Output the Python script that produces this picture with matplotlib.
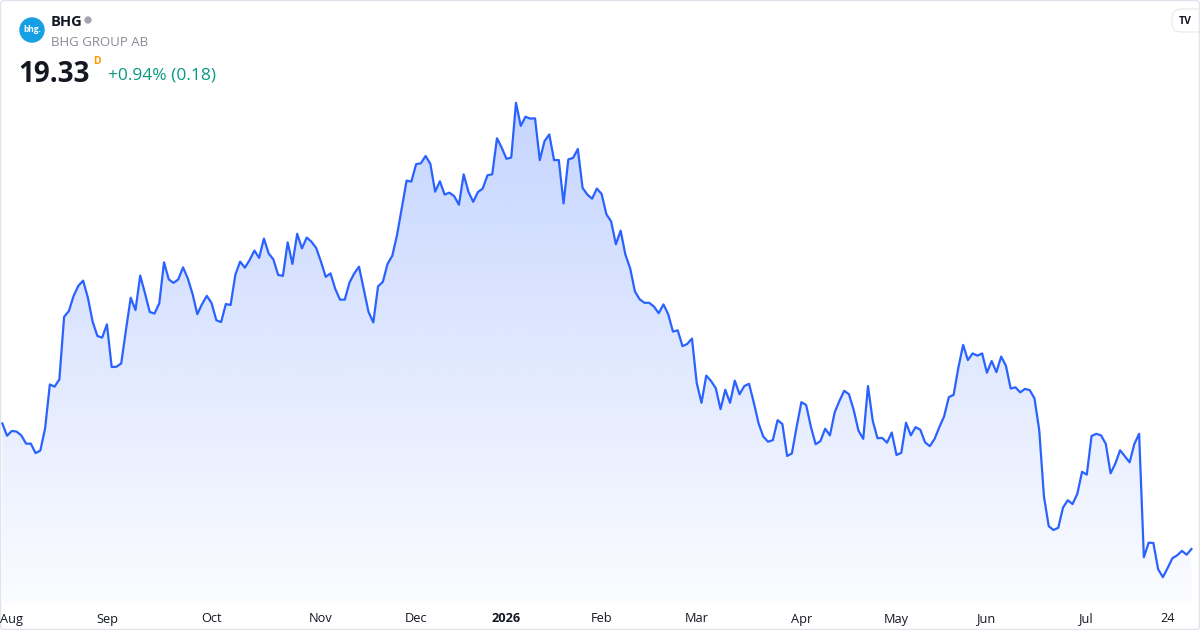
import matplotlib
matplotlib.use("Agg")
import matplotlib.pyplot as plt
import numpy as np
import pandas as pd
from matplotlib.patches import Circle, FancyBboxPatch

plt.rcParams['font.family'] = ['Open Sans', 'DejaVu Sans']

# Daily closes, BHG Group AB (Nasdaq Stockholm), Jul 31 2025 .. Jul 31 2026
start_date = "2025-07-31"
end_date = "2026-07-31"
holidays = ["2025-12-24", "2025-12-25", "2025-12-26", "2025-12-31",
            "2026-01-01", "2026-01-06", "2026-04-03", "2026-04-06",
            "2026-05-01", "2026-05-14", "2026-06-19"]

closes = [
    23.30, 22.91, 23.06, 23.04, 22.92, 22.66, 22.66, 22.36, 22.44, 23.14,
    24.53, 24.46, 24.69, 26.67, 26.85, 27.33, 27.65, 27.81, 27.27, 26.51,
    26.06, 26.01, 26.43, 25.08, 25.09, 25.19, 26.25, 27.27, 26.88, 27.97,
    27.41, 26.82, 26.77, 27.09, 28.39, 27.85, 27.74, 27.85, 28.23, 27.88,
    27.39, 26.75, 27.07, 27.33, 27.10, 26.56, 26.50, 27.07, 27.04, 28.00,
    28.41, 28.22, 28.46, 28.76, 28.53, 29.14, 28.67, 28.48, 27.99, 27.96,
    29.02, 28.34, 29.29, 28.83, 29.17, 29.04, 28.84, 28.41, 27.93, 28.04,
    27.55, 27.21, 27.21, 27.75, 28.04, 28.25, 27.54, 26.82, 26.49, 27.63,
    27.77, 28.34, 28.60, 29.26, 30.11, 30.97, 30.94, 31.49, 31.52, 31.75,
    31.50, 30.62, 30.95, 30.53, 30.59, 30.48, 30.21, 31.17, 30.62, 30.30,
    30.61, 30.72, 31.14, 31.17, 32.31, 32.01, 31.66, 31.70, 33.43, 32.70,
    32.99, 32.93, 32.94, 31.62, 32.22, 32.43, 31.62, 31.62, 30.25, 31.64,
    31.69, 31.97, 30.74, 30.53, 30.40, 30.72, 30.55, 29.91, 29.68, 28.96,
    29.39, 28.63, 28.20, 27.47, 27.22, 27.11, 27.11, 26.99, 26.78, 27.06,
    26.75, 26.20, 26.24, 25.74, 25.81, 25.98, 24.57, 23.95, 24.81, 24.64,
    24.41, 23.75, 24.36, 23.95, 24.65, 24.22, 24.48, 24.55, 23.95, 23.30,
    22.88, 22.72, 22.77, 23.40, 23.28, 22.27, 22.35, 23.19, 23.97, 23.88,
    23.19, 22.64, 22.74, 23.13, 22.92, 23.65, 24.01, 24.33, 24.22, 23.72,
    23.07, 22.81, 24.48, 23.38, 22.83, 22.84, 22.69, 23.01, 22.30, 22.37,
    23.32, 22.92, 23.18, 23.10, 22.70, 22.58, 22.81, 23.18, 23.52, 24.13,
    24.20, 25.06, 25.78, 25.30, 25.51, 25.44, 25.51, 24.90, 25.27, 24.92,
    25.41, 25.12, 24.40, 24.44, 24.28, 24.39, 24.35, 24.09, 23.09, 20.98,
    20.05, 19.93, 20.00, 20.64, 20.87, 20.75, 21.07, 21.77, 21.68, 22.90,
    22.97, 22.92, 22.65, 21.72, 22.03, 22.45, 22.26, 22.07, 22.65, 22.97,
    19.07, 19.53, 19.52, 18.69, 18.44, 18.73, 19.04, 19.13, 19.27, 19.15,
    19.33,
]

ticker = "BHG"
name = "BHG GROUP AB"
last_price = "19.33"
change_text = "+0.94% (0.18)"

bday = pd.offsets.CustomBusinessDay(holidays=holidays)
dates = pd.date_range(start_date, end_date, freq=bday)
df = pd.DataFrame({"close": closes}, index=dates[:len(closes)])

line_color = "#2962FF"

fig = plt.figure(figsize=(12, 6.3), dpi=100)
ax = fig.add_axes([0, 27 / 630, 1, 603 / 630])

x = np.arange(len(df))
y = df["close"].values
ax.set_xlim(-0.48, 251.8)
ax.set_ylim(36.6784 - 0.0316 * 603, 36.6784)
ymin, ymax = ax.get_ylim()

# gradient fill under the line
grad = np.linspace(0.27, 0.02, 256).reshape(-1, 1)
rgba = np.zeros((256, 1, 4))
rgba[..., 0] = 0x29 / 255
rgba[..., 1] = 0x62 / 255
rgba[..., 2] = 1.0
rgba[..., 3] = grad
top = y.max()
img = ax.imshow(rgba, aspect="auto", extent=[x[0], x[-1], ymin, top],
                origin="upper", zorder=1)
poly = ax.fill_between(x, y, ymin, facecolor="none", edgecolor="none")
img.set_clip_path(poly.get_paths()[0], transform=ax.transData)

ax.plot(x, y, color=line_color, lw=1.6, zorder=3, solid_joinstyle="round")

for s in ax.spines.values():
    s.set_visible(False)
ax.set_yticks([])
ax.set_xticks([])
ax.set_facecolor("none")

# overlay in pixel coordinates for header, labels and frame
ov = fig.add_axes([0, 0, 1, 1], facecolor="none")
ov.set_xlim(0, 1200)
ov.set_ylim(630, 0)
ov.axis("off")

def bar_px(i):
    return 2.3 + 4.756 * i

# month labels at first trading day of each month
months = df.index.to_period("M")
first_idx = [i for i in range(1, len(df)) if months[i] != months[i - 1]]
for i in first_idx:
    d = df.index[i]
    if d.month == 1:
        label, weight = str(d.year), "bold"
    else:
        label, weight = d.strftime("%b"), "normal"
    xpos = max(bar_px(i), 12)
    ov.text(xpos, 619, label, ha="center", va="center", fontsize=9.2,
            color="#131722", fontweight=weight)
# last week label
j = [k for k, d in enumerate(df.index)
     if d.year == 2026 and d.month == 7 and d.day == 24][0]
ov.text(bar_px(j), 619, "24", ha="center", va="center", fontsize=9.2,
        color="#131722")

# header
ov.add_patch(Circle((32, 30), 12, color="#16a0e3", zorder=5))
ov.text(32, 30, "bhg.", ha="center", va="center", fontsize=6,
        color="white", fontweight="bold", zorder=6)
ov.text(51, 21.5, ticker, ha="left", va="center", fontsize=10.5,
        fontweight="bold", color="#131722")
ov.add_patch(Circle((88, 20), 3, color="#a3a6af"))
ov.text(51, 42, name, ha="left", va="center", fontsize=9.5, color="#878b94")
ov.text(18, 75, last_price, ha="left", va="center", fontsize=20,
        fontweight="bold", color="#131722")
ov.text(93, 62, "D", ha="left", va="center", fontsize=7.5,
        fontweight="bold", color="#ff9800")
ov.text(108, 76, change_text, ha="left", va="center", fontsize=12.5,
        color="#089981")

# TradingView badge
ov.add_patch(FancyBboxPatch((1172, 9), 34, 23,
                            boxstyle="round,pad=0,rounding_size=9",
                            facecolor="white", edgecolor="#e8e9ee", lw=0.8))
ov.text(1185, 21, "TV", ha="center", va="center", fontsize=7.5,
        fontweight="bold", color="#131722")

# outer border
ov.add_patch(FancyBboxPatch((0.5, 0.5), 1199, 629,
                            boxstyle="round,pad=0,rounding_size=4",
                            facecolor="none", edgecolor="#e0e3eb", lw=1.0))

fig.savefig("out.png", dpi=100, facecolor="white")
